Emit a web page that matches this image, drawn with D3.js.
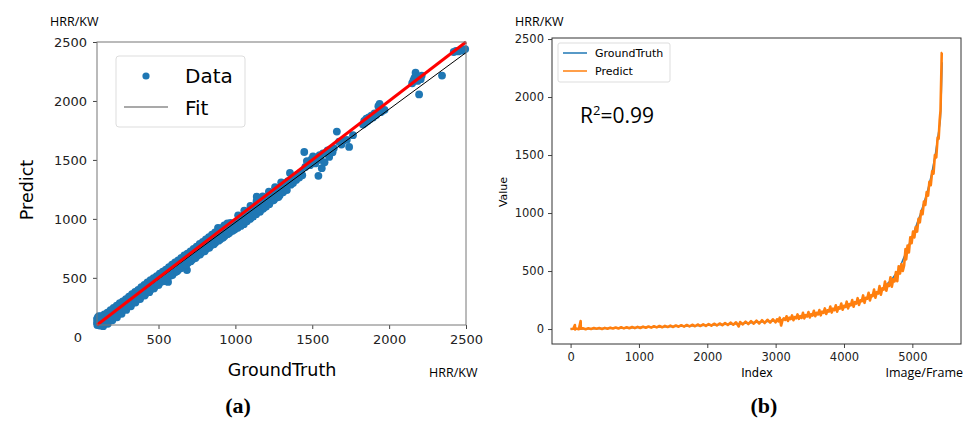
<!DOCTYPE html>
<html>
<head>
<meta charset="utf-8">
<script src="https://cdn.jsdelivr.net/npm/d3@7"></script>
<style>
  body { margin: 0; background: #fff; }
  svg { display: block; }
  .tick text { fill: #222; }
</style>
</head>
<body>
<script>
// (a) scatter: [GroundTruth, Predict] in HRR/KW
const scatterData = [
  [100,150],[100,120],[102,100],[105,165],[108,135],[110,110],[115,145],[118,95],[122,125],[126,160],
  [130,115],[134,140],[138,105],[142,150],[146,130],[150,170],[155,140],[160,125],[165,180],[170,150],
  [175,135],[180,190],[185,165],[190,150],[195,205],[200,180],[205,165],[210,215],[215,195],[220,180],
  [225,235],[230,210],[235,195],[240,250],[245,225],[250,210],[255,265],[260,240],[265,225],[270,275],
  [275,255],[280,240],[285,290],[290,265],[295,250],[300,305],[305,280],[310,265],[315,315],[320,295],
  [325,280],[330,330],[335,310],[340,295],[345,345],[350,325],[355,310],[360,360],[365,340],[370,325],
  [375,375],[380,355],[385,340],[390,390],[395,370],[400,355],[405,400],[410,385],[415,365],[420,420],
  [425,400],[430,385],[435,440],[440,415],[445,395],[450,455],[455,430],[460,410],[465,465],[470,445],
  [475,425],[480,480],[485,460],[490,440],[495,495],[500,475],[505,455],[510,505],[515,490],[520,470],
  [525,520],[530,505],[535,485],[540,535],[545,520],[550,500],[555,545],[562,465],[565,530],[570,560],
  [575,540],[580,520],[585,575],[590,555],[595,535],[600,590],[605,570],[610,550],[615,600],[620,585],
  [625,565],[630,615],[635,600],[640,580],[645,635],[650,615],[655,595],[660,650],[665,630],[670,610],
  [675,660],[680,645],[685,566],[690,625],[695,680],[700,660],[705,640],[710,695],[715,675],[720,655],
  [725,710],[730,690],[735,670],[740,725],[745,700],[750,685],[755,740],[760,715],[765,700],[770,755],
  [775,735],[780,715],[785,770],[790,750],[795,730],[800,790],[805,765],[810,745],[815,800],[820,780],
  [825,760],[830,815],[835,795],[840,775],[845,830],[850,810],[855,790],[860,845],[865,820],[870,800],
  [875,855],[880,835],[887,923],[890,870],[895,845],[900,825],[905,885],[910,860],[915,840],[920,900],
  [925,875],[930,855],[935,910],[940,890],[945,870],[950,930],[955,900],[960,880],[969,965],[975,920],
  [980,900],[985,955],[990,930],[995,910],[1000,970],[1008,945],[1015,925],[1020,990],[1028,960],[1035,940],
  [1040,1010],[1048,975],[1055,955],[1060,1030],[1068,1000],[1075,980],[1080,1050],[1088,1020],[1095,1000],[1100,1070],
  [1108,1040],[1115,1020],[1120,1095],[1128,1060],[1135,1040],[1139,1188],[1145,1110],[1152,1080],[1160,1060],[1165,1135],
  [1172,1100],[1180,1085],[1185,1160],[1192,1125],[1200,1105],[1205,1180],[1212,1150],[1220,1130],[1228,1210],[1235,1175],
  [1242,1155],[1250,1225],[1258,1195],[1265,1180],[1272,1250],[1280,1220],[1288,1200],[1295,1270],[1302,1240],[1310,1225],
  [1318,1300],[1325,1260],[1335,1245],[1342,1320],[1355,1390],[1360,1290],[1368,1340],[1375,1305],[1385,1360],[1395,1330],
  [1405,1375],[1415,1350],[1425,1395],[1435,1370],[1448,1567],[1455,1440],[1465,1490],[1475,1475],[1485,1455],[1495,1505],
  [1505,1530],[1512,1490],[1520,1470],[1528,1515],[1540,1365],[1548,1540],[1555,1500],[1562,1430],[1570,1555],[1580,1480],
  [1590,1560],[1600,1580],[1610,1525],[1620,1590],[1632,1565],[1640,1600],[1660,1740],[1675,1655],[1690,1630],[1700,1660],
  [1725,1670],[1740,1610],[1765,1710],[1830,1800],[1838,1830],[1845,1815],[1852,1850],[1860,1830],[1868,1860],[1875,1845],
  [1885,1875],[1895,1860],[1905,1895],[1915,1880],[1930,1955],[1938,1975],[1945,1905],[1955,1915],[1970,1925],[2150,2150],
  [2158,2175],[2165,2195],[2172,2240],[2178,2210],[2185,2170],[2192,2200],[2195,2055],[2205,2185],[2212,2215],[2344,2215],
  [2420,2415],[2435,2425],[2450,2420],[2465,2430],[2480,2428],[2495,2440],
  // upper edge of the dense band
  [112,175],[128,175],[148,190],[168,205],[188,225],[208,245],[228,265],[248,285],[268,300],[288,320],
  [308,340],[328,362],[348,380],[368,398],[388,420],[408,440],[428,462],[448,480],[468,498],[488,515],
  [508,535],[528,552],[548,570],[568,590],[588,612],[608,630],[628,648],[648,668],[668,690],[688,705],
  [708,725],[728,745],[748,765],[768,788],[788,805],[808,825],[828,845],[848,866],[868,885],[888,900],
  [908,922],[928,945],[948,962],[1018,1030],[1058,1070],[1098,1110],[1138,1150],[1178,1190],[1218,1230],
  [1258,1268],[1298,1310],
  // lower edge of the dense band
  [140,90],[170,110],[200,140],[230,165],[260,195],[290,228],[320,258],[350,290],[380,320],[410,350],
  [440,378],[470,410],[500,440],[530,470],[560,500],[590,525],[620,555],[650,585],[680,612],[710,640],
  [740,668],[770,698],[800,725],[830,755],[860,785],[890,815],[920,842],[950,872],[980,900],[1010,925],
  [1040,955],[1070,985],[1100,1010],[1130,1040],[1160,1070],[1190,1100],[1220,1125],[1250,1160],[1280,1185]
];
const fitLine = [[100,106],[2500,2410]];
const idealLine = [[100,100],[2500,2500]];
const scatterTicks = [500,1000,1500,2000,2500];

// (b) series: [Index, HRR/KW]
const groundTruthSeries = [
  [0,0],[500,5],[1000,13],[1500,22],[2000,32],[2500,48],[2772,60],[3000,72],[3257,92],[3500,118],
  [3748,150],[4000,185],[4236,235],[4480,310],[4600,370],[4700,430],[4800,510],[4900,650],[5000,800],
  [5117,990],[5214,1170],[5280,1330],[5335,1500],[5380,1680],[5410,1800],[5425,2050],[5435,2300]
];
const predictSeries = [
  [0,0],[40,3],[63,35],[66,-3],[80,4],[120,-2],[147,69],[150,2],[180,6],[220,-1],[260,7],[300,1],[340,8],
  [380,2],[420,9],[460,1],[500,10],[540,3],[580,12],[620,4],[660,13],[700,5],[740,15],[780,6],[820,16],
  [860,7],[900,18],[940,8],[980,19],[1020,9],[1060,21],[1100,11],[1140,22],[1180,12],[1220,24],[1260,14],
  [1300,26],[1340,15],[1380,27],[1420,17],[1460,29],[1500,18],[1540,31],[1580,20],[1620,33],[1660,21],
  [1700,35],[1740,23],[1780,37],[1820,24],[1860,39],[1900,26],[1940,41],[1980,27],[2020,43],[2060,29],
  [2100,46],[2140,31],[2180,48],[2220,33],[2260,52],[2300,35],[2340,55],[2380,37],[2420,58],[2460,22],
  [2480,60],[2520,40],[2560,64],[2600,43],[2640,68],[2680,46],[2720,72],[2760,48],[2800,76],[2840,52],
  [2880,80],[2920,55],[2960,84],[3000,58],[3020,84],[3040,66],[3060,98],[3080,30],[3100,75],[3120,92],
  [3140,78],[3160,110],[3180,70],[3200,98],[3220,86],[3240,118],[3260,76],[3280,104],[3300,92],[3320,126],
  [3340,88],[3360,112],[3380,96],[3400,140],[3420,92],[3440,120],[3460,108],[3480,146],[3500,100],[3520,128],
  [3540,116],[3560,158],[3580,110],[3600,140],[3620,126],[3640,164],[3660,118],[3680,150],[3700,140],[3720,178],
  [3740,130],[3760,162],[3780,150],[3800,194],[3820,142],[3840,176],[3860,162],[3880,204],[3900,150],[3920,188],
  [3940,176],[3960,220],[3980,166],[4000,200],[4020,190],[4040,236],[4060,178],[4080,216],[4100,204],[4120,250],
  [4140,192],[4160,232],[4180,220],[4200,266],[4220,208],[4240,248],[4260,240],[4280,290],[4300,226],[4320,270],
  [4340,262],[4360,312],[4380,246],[4400,292],[4420,284],[4440,340],[4460,270],[4480,318],[4500,306],[4520,370],
  [4540,296],[4560,350],[4580,340],[4600,410],[4620,330],[4640,386],[4660,372],[4680,446],[4700,364],[4720,430],
  [4740,410],[4760,492],[4780,412],[4800,540],[4820,478],[4840,560],[4860,500],[4880,548],[4900,690],[4910,600],
  [4930,720],[4950,660],[4970,790],[4990,740],[5010,840],[5030,790],[5050,880],[5070,840],[5090,950],[5110,920],
  [5130,1020],[5150,990],[5170,1100],[5190,1070],[5210,1180],[5230,1150],[5250,1270],[5270,1240],[5290,1360],
  [5310,1340],[5330,1500],[5350,1480],[5370,1650],[5385,1640],[5400,1800],[5412,1880],[5422,2150],[5430,2380],
  [5438,2385]
];
const seriesXTicks = [0,1000,2000,3000,4000,5000];
const seriesYTicks = [0,500,1000,1500,2000,2500];

const blue = "#1f77b4", orange = "#ff7f0e";
const mpl = "DejaVu Sans, sans-serif";
const note = "Open Sans, Noto Sans, sans-serif";

const svg = d3.select("body").append("svg")
  .attr("width", 972).attr("height", 421);

function styleAxis(g, size) {
  g.select(".domain").remove();
  g.selectAll(".tick line").attr("stroke", "#444");
  g.selectAll(".tick text").attr("font-family", mpl).attr("font-size", size);
}

function drawScatter() {
  const x = d3.scaleLinear().domain([100, 2500]).range([97, 466]);
  const y = d3.scaleLinear().domain([100, 2500]).range([325, 42]);
  const g = svg.append("g");

  g.append("g").attr("transform", "translate(0,325)")
    .call(d3.axisBottom(x).tickValues(scatterTicks).tickFormat(d3.format("d")).tickSize(4).tickPadding(6))
    .call(a => styleAxis(a, 13));
  g.append("g").attr("transform", "translate(97,0)")
    .call(d3.axisLeft(y).tickValues(scatterTicks).tickFormat(d3.format("d")).tickSize(4).tickPadding(6))
    .call(a => styleAxis(a, 13));
  // the stray "0" label sitting under the y axis
  g.append("text").attr("x", 82).attr("y", y(0) + 5).attr("text-anchor", "end")
    .attr("font-family", mpl).attr("font-size", 13).attr("fill", "#222").text("0");

  g.append("g").selectAll("circle")
    .data(scatterData)
    .enter().append("circle")
    .attr("cx", d => x(d[0]))
    .attr("cy", d => y(d[1]))
    .attr("r", 3.9)
    .attr("fill", blue);

  const line = d3.line().x(d => x(d[0])).y(d => y(d[1]));
  g.append("path").attr("d", line(fitLine)).attr("stroke", "#000").attr("stroke-width", 1).attr("fill", "none");
  g.append("path").attr("d", line(idealLine)).attr("stroke", "#f00").attr("stroke-width", 3).attr("fill", "none");

  g.append("rect").attr("x", 97).attr("y", 42).attr("width", 369).attr("height", 283)
    .attr("fill", "none").attr("stroke", "#777").attr("stroke-width", 1);

  // legend
  const lg = g.append("g");
  lg.append("rect").attr("x", 116).attr("y", 56).attr("width", 129).attr("height", 71).attr("rx", 3)
    .attr("fill", "#fff").attr("fill-opacity", 0.85).attr("stroke", "#ddd");
  lg.append("circle").attr("cx", 146).attr("cy", 76).attr("r", 3.6).attr("fill", blue);
  lg.append("text").attr("x", 185).attr("y", 83).attr("font-family", mpl).attr("font-size", 20).text("Data");
  lg.append("line").attr("x1", 124).attr("x2", 168).attr("y1", 107).attr("y2", 107)
    .attr("stroke", "#555").attr("stroke-width", 1.2);
  lg.append("text").attr("x", 185).attr("y", 115).attr("font-family", mpl).attr("font-size", 20).text("Fit");

  g.append("text").attr("x", 282).attr("y", 376).attr("text-anchor", "middle")
    .attr("font-family", mpl).attr("font-size", 17.5).text("GroundTruth");
  g.append("text").attr("transform", "translate(33,190) rotate(-90)").attr("text-anchor", "middle")
    .attr("font-family", mpl).attr("font-size", 17.5).text("Predict");
  g.append("text").attr("x", 50).attr("y", 26).attr("font-family", note).attr("font-size", 12.5).text("HRR/KW");
  g.append("text").attr("x", 429).attr("y", 377).attr("font-family", note).attr("font-size", 12.5).text("HRR/KW");
  g.append("text").attr("x", 238).attr("y", 413).attr("text-anchor", "middle")
    .attr("font-family", "Liberation Serif, serif").attr("font-weight", "bold").attr("font-size", 22).text("(a)");
}

function drawSeries() {
  const x = d3.scaleLinear().domain([-272, 5712]).range([552, 961]);
  const y = d3.scaleLinear().domain([-129, 2509]).range([344, 38]);
  const g = svg.append("g");

  g.append("g").attr("transform", "translate(0,344)")
    .call(d3.axisBottom(x).tickValues(seriesXTicks).tickFormat(d3.format("d")).tickSize(4).tickPadding(5))
    .call(a => styleAxis(a, 11.5));
  g.append("g").attr("transform", "translate(552,0)")
    .call(d3.axisLeft(y).tickValues(seriesYTicks).tickFormat(d3.format("d")).tickSize(4).tickPadding(4))
    .call(a => styleAxis(a, 11.5));

  const line = d3.line().x(d => x(d[0])).y(d => y(d[1]));
  g.append("path").attr("d", line(groundTruthSeries)).attr("stroke", blue).attr("stroke-width", 1.5).attr("fill", "none");
  g.append("path").attr("d", line(predictSeries)).attr("stroke", orange).attr("stroke-width", 2.6)
    .attr("stroke-linejoin", "round").attr("fill", "none");

  g.append("rect").attr("x", 552).attr("y", 38).attr("width", 409).attr("height", 306)
    .attr("fill", "none").attr("stroke", "#333").attr("stroke-width", 1);

  const lg = g.append("g");
  lg.append("rect").attr("x", 558).attr("y", 43).attr("width", 112).attr("height", 39).attr("rx", 2)
    .attr("fill", "#fff").attr("fill-opacity", 0.85).attr("stroke", "#ddd");
  lg.append("line").attr("x1", 563).attr("x2", 587).attr("y1", 53).attr("y2", 53).attr("stroke", blue).attr("stroke-width", 1.5);
  lg.append("line").attr("x1", 563).attr("x2", 587).attr("y1", 71).attr("y2", 71).attr("stroke", orange).attr("stroke-width", 1.5);
  lg.append("text").attr("x", 595).attr("y", 57).attr("font-family", mpl).attr("font-size", 11).text("GroundTruth");
  lg.append("text").attr("x", 595).attr("y", 75).attr("font-family", mpl).attr("font-size", 11).text("Predict");

  const r2 = g.append("text").attr("x", 580).attr("y", 123).attr("font-family", note).attr("font-size", 21);
  r2.append("tspan").text("R");
  r2.append("tspan").attr("dy", -8).attr("font-size", 13).text("2");
  r2.append("tspan").attr("dy", 8).text("=0.99");

  g.append("text").attr("x", 757).attr("y", 377).attr("text-anchor", "middle")
    .attr("font-family", mpl).attr("font-size", 11.5).text("Index");
  g.append("text").attr("x", 963).attr("y", 377).attr("text-anchor", "end")
    .attr("font-family", note).attr("font-size", 12.5).text("Image/Frame");
  g.append("text").attr("transform", "translate(507,192) rotate(-90)").attr("text-anchor", "middle")
    .attr("font-family", mpl).attr("font-size", 11).text("Value");
  g.append("text").attr("x", 515).attr("y", 26).attr("font-family", note).attr("font-size", 12.5).text("HRR/KW");
  g.append("text").attr("x", 764).attr("y", 413).attr("text-anchor", "middle")
    .attr("font-family", "Liberation Serif, serif").attr("font-weight", "bold").attr("font-size", 22).text("(b)");
}

drawScatter();
drawSeries();
</script>
</body>
</html>
